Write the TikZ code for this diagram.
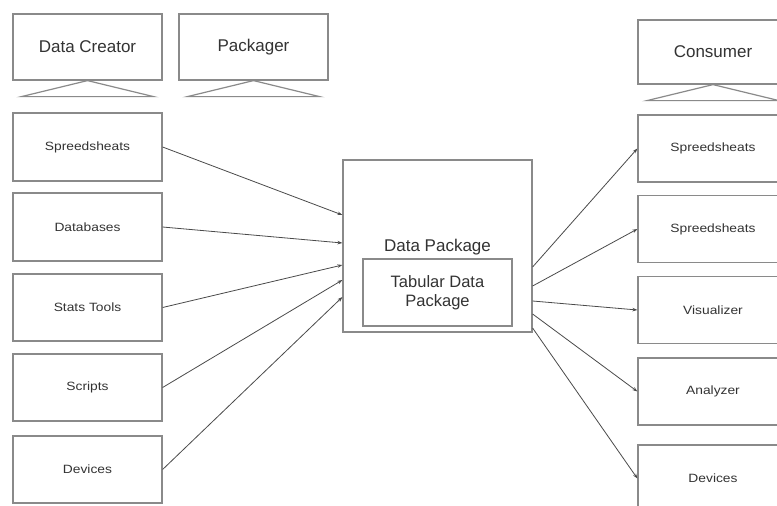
\documentclass[tikz,border=0pt]{standalone}
\usepackage{fontspec}
\setmainfont{Liberation Sans}
\newfontfamily\smallf[FakeStretch=1.15]{Liberation Sans}
\usetikzlibrary{arrows.meta,calc}
\definecolor{boxc}{HTML}{8A8A8A}
\definecolor{arrc}{HTML}{4A4A4A}
\definecolor{txtc}{HTML}{333333}
\begin{document}
\begin{tikzpicture}[x=1pt,y=-1pt,
  box/.style={draw=boxc,line width=1.2pt,fill=white,rectangle,inner sep=0pt,text=txtc},
  rolebox/.style={box,minimum width=149pt,minimum height=66pt,font=\fontsize{17}{19}\selectfont},
  itembox/.style={box,minimum width=149pt,minimum height=67pt,font=\smallf\fontsize{12}{14}\selectfont},
  stand/.style={draw=boxc,line width=1.2pt},
  conn/.style={draw=arrc,line width=0.8pt,-{Stealth[length=5pt,width=3.5pt]}}]
\clip (0,0) rectangle (777,506);
\fill[white] (0,0) rectangle (777,506);
% role boxes
\node[rolebox] (creator) at (87.5,47) {Data Creator};
\node[rolebox] (packager) at (253.5,47) {Packager};
\node[rolebox,minimum width=150pt,minimum height=64pt] (consumer) at (713,52) {Consumer};
\draw[stand] (creator.south) -- ++(-66,16) -- ++(132,0) -- cycle;
\draw[stand] (packager.south) -- ++(-66,16) -- ++(132,0) -- cycle;
\draw[stand] (consumer.south) -- ++(-66,16) -- ++(132,0) -- cycle;
% left items
\node[itembox,minimum height=68pt] (l1) at (87.5,147) {Spreedsheats};
\node[itembox,minimum height=68pt] (l2) at (87.5,227) {Databases};
\node[itembox] (l3) at (87.5,307.5) {Stats Tools};
\node[itembox] (l4) at (87.5,387.5) {Scripts};
\node[itembox] (l5) at (87.5,469.5) {Devices};
% right items
\node[itembox,minimum width=150pt] (r1) at (713,148.5) {Spreedsheats};
\node[itembox,minimum width=150pt] (r2) at (713,229) {Spreedsheats};
\node[itembox,minimum width=150pt] (r3) at (713,310) {Visualizer};
\node[itembox,minimum width=150pt] (r4) at (713,391.5) {Analyzer};
\node[itembox,minimum width=150pt] (r5) at (713,478.5) {Devices};
% center
\node[box,minimum width=189pt,minimum height=172pt] (dp) at (437.5,246) {};
\node[text=txtc,font=\fontsize{17}{19}\selectfont] (dplabel) at (437.5,247) {Data Package};
\node[box,minimum width=149pt,minimum height=67pt,align=center,
      font=\fontsize{16.5}{19}\selectfont] (tdp) at (437.5,292.5) {Tabular Data\\Package};
% arrows in
\draw[conn] (l1.east) -- (dp.west |- 0,215);
\draw[conn] (l2.east) -- (dp.west |- 0,243);
\draw[conn] (l3.east) -- (dp.west |- 0,265);
\draw[conn] (l4.east) -- (dp.west |- 0,280);
\draw[conn] (l5.east) -- (dp.west |- 0,297);
% arrows out
\draw[conn] (dp.east |- 0,267) -- (r1.west);
\draw[conn] (dp.east |- 0,286) -- (r2.west);
\draw[conn] (dp.east |- 0,301) -- (r3.west);
\draw[conn] (dp.east |- 0,314) -- (r4.west);
\draw[conn] (dp.east |- 0,328) -- (r5.west);
\end{tikzpicture}
\end{document}
